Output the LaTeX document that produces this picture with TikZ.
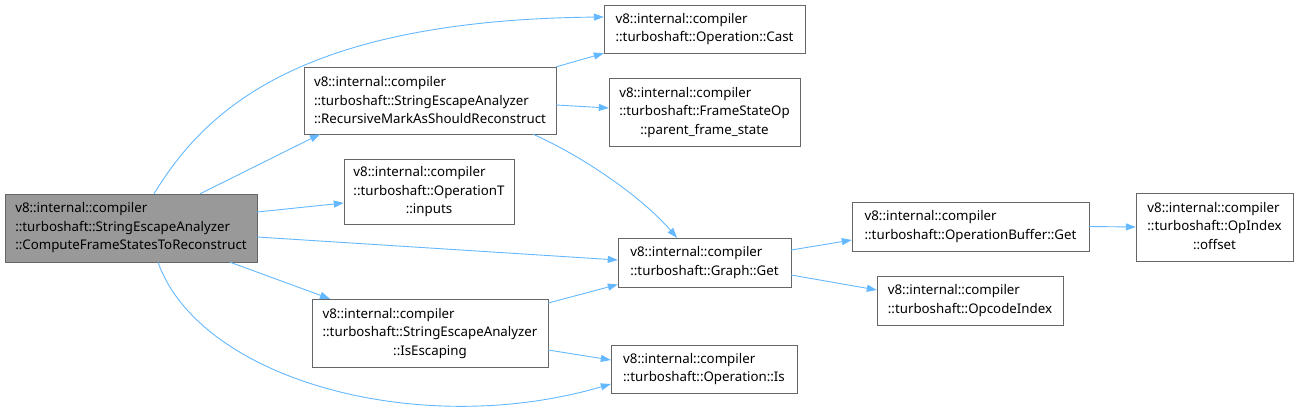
\documentclass[tikz,border=0pt]{standalone}
\usepackage{fontspec}
\setmainfont{Noto Sans}
\usepackage{tikz}
\usepackage{xcolor}
\usetikzlibrary{arrows.meta}

\definecolor{edgeblue}{HTML}{63B8FF}
\definecolor{boxline}{HTML}{666666}
\definecolor{mainfill}{HTML}{999999}

\begin{document}
\begin{tikzpicture}[x=1pt, y=-1pt,
    fn/.style={draw=boxline, fill=white, align=left, inner sep=0pt,
               font=\fontsize{13.3}{18.5}\selectfont},
    mainfn/.style={fn, fill=mainfill},
    arr/.style={-{Triangle[length=10pt,width=7pt]}, draw=edgeblue, line width=0.9pt}
]
\useasboundingbox (0,0) rectangle (1298,410);

\node[mainfn, minimum width=252, minimum height=68] (comp) at (131,228)
  {v8::internal::compiler\\::turboshaft::StringEscapeAnalyzer\\::ComputeFrameStatesToReconstruct};
\node[fn, minimum width=252, minimum height=67] (rec) at (430,100.5)
  {v8::internal::compiler\\::turboshaft::StringEscapeAnalyzer\\::RecursiveMarkAsShouldReconstruct};
\node[fn, minimum width=201, minimum height=48] (cast) at (704.5,29)
  {v8::internal::compiler\\::turboshaft::Operation::Cast};
\node[fn, minimum width=191, minimum height=68] (fso) at (704.5,112)
  {\begin{tabular}{@{}l@{}}v8::internal::compiler\\::turboshaft::FrameStateOp\\\multicolumn{1}{@{}c@{}}{::parent\_frame\_state}\end{tabular}};
\node[fn, minimum width=170, minimum height=65] (inp) at (429,191.5)
  {\begin{tabular}{@{}l@{}}v8::internal::compiler\\::turboshaft::OperationT\\\multicolumn{1}{@{}c@{}}{::inputs}\end{tabular}};
\node[fn, minimum width=173, minimum height=49] (gget) at (704.5,262.5)
  {v8::internal::compiler\\::turboshaft::Graph::Get};
\node[fn, minimum width=236, minimum height=68] (isesc) at (430,333)
  {\begin{tabular}{@{}l@{}}v8::internal::compiler\\::turboshaft::StringEscapeAnalyzer\\\multicolumn{1}{@{}c@{}}{::IsEscaping}\end{tabular}};
\node[fn, minimum width=186, minimum height=48] (is) at (704,369)
  {v8::internal::compiler\\::turboshaft::Operation::Is};
\node[fn, minimum width=237, minimum height=49] (obget) at (970.5,226.5)
  {v8::internal::compiler\\::turboshaft::OperationBuffer::Get};
\node[fn, minimum width=157, minimum height=68] (off) at (1214.5,227)
  {\begin{tabular}{@{}l@{}}v8::internal::compiler\\::turboshaft::OpIndex\\\multicolumn{1}{@{}c@{}}{::offset}\end{tabular}};
\node[fn, minimum width=186, minimum height=49] (opc) at (970,300.5)
  {v8::internal::compiler\\::turboshaft::OpcodeIndex};

% calls from ComputeFrameStatesToReconstruct
\draw[arr] ([xshift=23pt]comp.north) .. controls (205,110) and (300,20) .. ([yshift=12pt]cast.west);
\draw[arr] ([xshift=69pt]comp.north) -- ([xshift=-110pt]rec.south);
\draw[arr] ([yshift=16pt]comp.east) -- ([yshift=-11.5pt]inp.west);
\draw[arr] ([yshift=-9pt]comp.east) -- ([yshift=2.5pt]gget.west);
\draw[arr] ([xshift=99pt]comp.south) -- ([xshift=-100pt]isesc.north);
\draw[arr] ([xshift=27pt]comp.south) .. controls (200,380) and (420,440) .. ([yshift=-15pt]is.west);
% calls from RecursiveMarkAsShouldReconstruct
\draw[arr] (rec.north east) -- (cast.south west);
\draw[arr] ([yshift=-4.5pt]rec.east) -- ([yshift=4pt]fso.west);
\draw[arr] ([xshift=103pt]rec.south) .. controls (580,155) and (640,195) .. ([xshift=-27.5pt]gget.north);
% calls from IsEscaping
\draw[arr] ([yshift=30pt]isesc.east) -- ([yshift=-22pt]gget.west);
\draw[arr] ([yshift=-17pt]isesc.east) -- ([yshift=9pt]is.west);
% calls from Graph::Get
\draw[arr] ([yshift=12.5pt]gget.east) -- ([yshift=-13.5pt]obget.west);
\draw[arr] ([yshift=-12.5pt]gget.east) -- ([yshift=10.5pt]opc.west);
\draw[arr] (obget.east) -- (off.west);
\end{tikzpicture}
\end{document}
